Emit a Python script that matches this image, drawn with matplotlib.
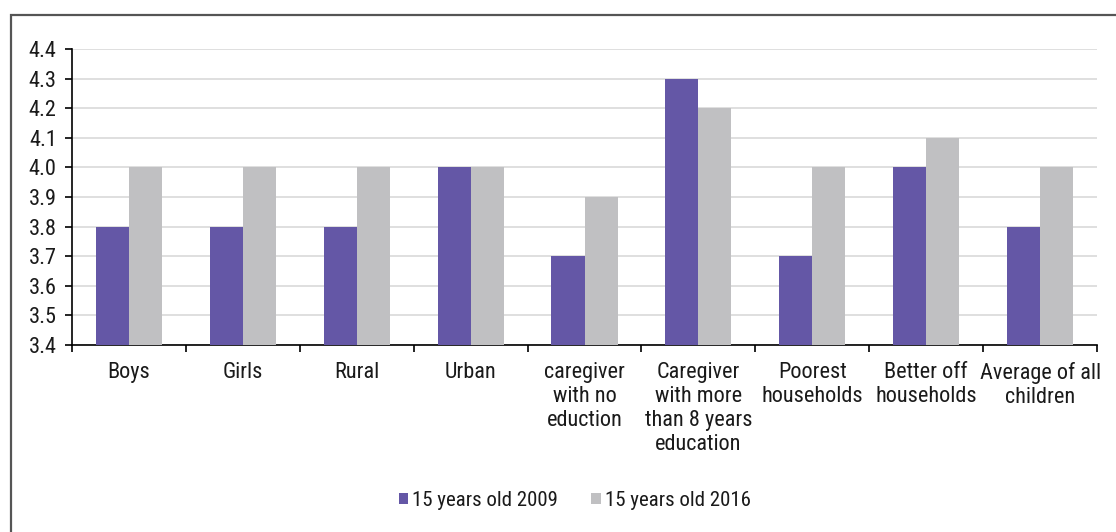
import numpy as np
import matplotlib.pyplot as plt
from matplotlib.patches import Rectangle

categories = ['Boys', 'Girls', 'Rural', 'Urban', 'caregiver\nwith no\neduction',
              'Caregiver\nwith more\nthan 8 years\neducation', 'Poorest\nhouseholds',
              'Better off\nhouseholds', 'Average of all\nchildren']
values_2009 = [3.8, 3.8, 3.8, 4.0, 3.7, 4.3, 3.7, 4.0, 3.8]
values_2016 = [4.0, 4.0, 4.0, 4.0, 3.9, 4.2, 4.0, 4.1, 4.0]
yticks = [3.4, 3.5, 3.6, 3.7, 3.8, 3.9, 4.0, 4.1, 4.2, 4.3, 4.4]

plt.rcParams['font.family'] = ['Roboto Condensed', 'DejaVu Sans']
plt.rcParams['font.size'] = 16
plt.rcParams['text.color'] = '#1a1a1a'

fig = plt.figure(figsize=(11.16, 5.32), dpi=100)
ax = fig.add_axes([0.0645, 0.3515, 0.9185, 0.5565])

# outer frame
fig.patches.append(Rectangle((11 / 1116, -0.1), 1.2, (532 - 15) / 532 + 0.1,
                             transform=fig.transFigure, fill=False,
                             edgecolor='#555555', linewidth=1.6))

x = np.arange(len(categories))
w = 0.29
ax.bar(x - w / 2, values_2009, w, color='#6457A6', label='15 years old 2009', zorder=3)
ax.bar(x + w / 2, values_2016, w, color='#C0C0C2', label='15 years old 2016', zorder=3)

ax.set_ylim(3.4, 4.4)
ax.set_xlim(-0.5, len(categories) - 0.5)
ax.set_yticks(yticks)
ax.set_yticklabels([f'{v:.1f}' for v in yticks])
ax.yaxis.grid(True, color='#D9D9D9', linewidth=1.2, zorder=0)

ax.set_xticks(x)
ax.set_xticklabels(categories, va='top', linespacing=1.2)
ax.set_xticks(np.arange(-0.5, len(categories)), minor=True)
ax.tick_params(axis='x', which='major', length=0, pad=12)
ax.tick_params(axis='x', which='minor', length=5, width=1.2, color='black')
ax.tick_params(axis='y', length=5, width=1.2, pad=6, labelcolor='#1a1a1a')
ax.tick_params(axis='x', labelcolor='#1a1a1a')

for s in ['top', 'right']:
    ax.spines[s].set_visible(False)
ax.spines['left'].set_linewidth(1.2)
ax.spines['bottom'].set_linewidth(1.2)

fig.legend(loc='center', bbox_to_anchor=(0.515, 0.06), ncol=2, frameon=False,
           handlelength=0.45, handleheight=0.45, handletextpad=0.2, columnspacing=1.6,
           fontsize=15)

fig.savefig('out.png', dpi=100)
